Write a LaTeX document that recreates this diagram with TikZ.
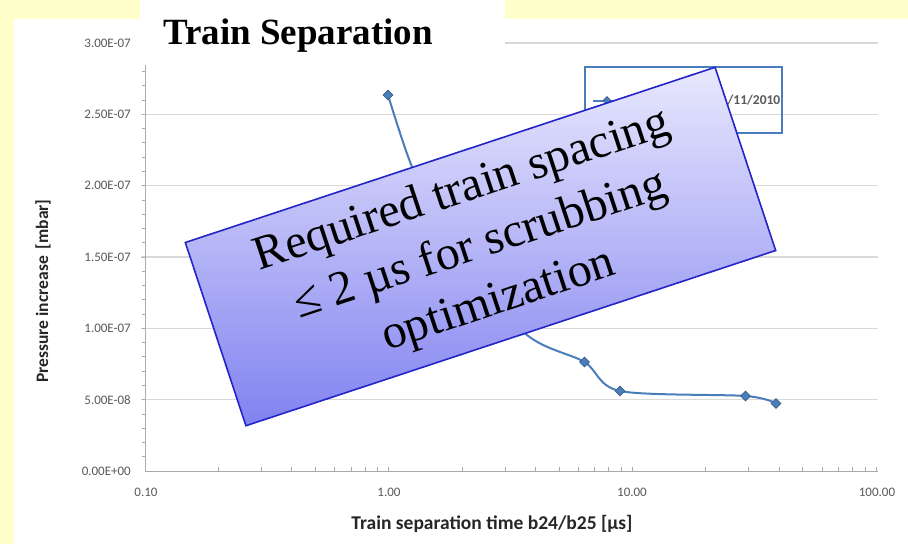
\documentclass[tikz,border=0pt]{standalone}
\usepackage{fontspec}
\setmainfont{Liberation Serif}
\newfontfamily\chartfont{Carlito}
\usetikzlibrary{shapes.geometric}

\definecolor{slidebg}{RGB}{255,255,204}
\definecolor{gridgray}{RGB}{217,217,217}
\definecolor{axisgray}{RGB}{170,170,170}
\definecolor{ticktext}{RGB}{89,89,89}
\definecolor{series}{RGB}{74,126,187}
\definecolor{seriesdark}{RGB}{56,93,138}
\definecolor{boxblue}{RGB}{36,36,200}
\definecolor{boxtop}{RGB}{232,232,254}
\definecolor{boxbottom}{RGB}{130,130,240}

\tikzset{
  gridline/.style={draw=gridgray, line width=1.3pt},
  axisline/.style={draw=axisgray, line width=1pt},
  ticklabel/.style={font=\chartfont\fontsize{13}{15}\selectfont, text=ticktext, inner sep=0pt},
  axistitle/.style={font=\chartfont\bfseries\fontsize{17.5}{20}\selectfont, text=black!85, inner sep=0pt},
  datapt/.style={diamond, draw=seriesdark, fill=series, inner sep=0pt, minimum size=10pt, line width=0.6pt},
  notebox/.style={draw=boxblue, line width=1.6pt, top color=boxtop, bottom color=boxbottom,
    align=center, font=\fontsize{48}{58}\selectfont, inner sep=0pt}
}

\begin{document}
\begin{tikzpicture}[x=1pt, y=-1pt]
        \useasboundingbox (0,0) rectangle (908,544);
        \fill[slidebg] (0,0) rectangle (908,544);
        \fill[white] (14,19) rectangle (908,544);

        \foreach \v/\lab in {0/0.00E+00, 0.5/5.00E-08, 1/1.00E-07, 1.5/1.50E-07, 2/2.00E-07, 2.5/2.50E-07, 3/3.00E-07} {
          \pgfmathsetmacro{\yy}{471-\v*142.67}
          \node[ticklabel, anchor=east] (ylab\v) at (131,\yy) {\lab};
        }
        \foreach \v in {0.5,1,1.5,2,2.5,3}
          \draw[gridline] (141,{471-\v*142.67}) -- (878,{471-\v*142.67});
        \foreach \k in {1,...,29}
          \draw[axisline, line width=0.8pt] (142,{471-\k*14.267}) -- (146,{471-\k*14.267});

        \draw[axisline] (145,65) -- (145,471);
        \draw[axisline] (145,471) -- (878,471);
        \foreach \d in {0,1,2}
          \foreach \m in {2,...,9} {
            \pgfmathsetmacro{\xx}{145+243.7*(\d+log10(\m))}
            \draw[axisline, line width=0.8pt] (\xx,471) -- (\xx,467);
          }
        \foreach \d in {1,2,3}
          \draw[axisline, line width=0.8pt] ({145+243.7*\d},471) -- ({145+243.7*\d},467);

        \node[ticklabel] (xlab1) at (146,492) {0.10};
        \node[ticklabel] (xlab2) at (389,492) {1.00};
        \node[ticklabel] (xlab3) at (632,492) {10.00};
        \node[ticklabel] (xlab4) at (877,492) {100.00};

        \node[axistitle, font=\chartfont\bfseries\fontsize{19.5}{22}\selectfont] (xtitle) at (492,524) {Train separation time b24/b25 [µs]};
        \node[axistitle, rotate=90] (ytitle) at (43,291) {Pressure increase\, [mbar]};

        \coordinate (p1) at (388,95);
        \coordinate (h1) at (412,167);
        \coordinate (h2) at (452,255);
        \coordinate (h3) at (527,335);
        \coordinate (p2) at (584.5,362);
        \coordinate (p3) at (620,391);
        \coordinate (p4) at (745.5,396);
        \coordinate (p5) at (776,403.5);
        \draw[series, line width=2pt] plot[smooth, tension=0.5] coordinates {(p1) (h1) (h2) (h3) (p2) (p3) (p4) (p5)};
        \foreach \p in {1,...,5}
          \node[datapt] (mark\p) at (p\p) {};

        \node[draw=series, line width=1.5pt, minimum width=197pt, minimum height=66pt, inner sep=0pt] (legend) at (683.5,100) {};
        \coordinate (legl) at (593,100.5);
        \coordinate (legr) at (621,100.5);
        \draw[series, line width=2pt] (legl) -- (legr);
        \node[datapt, minimum size=8pt] (legmark) at (607,100.5) {};
        \node[font=\chartfont\bfseries\fontsize{13.5}{15}\selectfont, text=ticktext, anchor=east, inner sep=0pt] (legtext) at (780.5,100.5) {/11/2010};

        \fill[white] (140,0) rectangle (505,65);
        \node[anchor=base west, inner sep=0pt, font=\bfseries\fontsize{37}{40}\selectfont] (title) at (163,44) {Train Separation};

        \node[notebox, rotate=18.3, minimum width=558pt, minimum height=193pt] (note) at (480.5,246.5)
          {Required train spacing\\≤ 2 µs for scrubbing\\optimization};
\end{tikzpicture}
\end{document}
